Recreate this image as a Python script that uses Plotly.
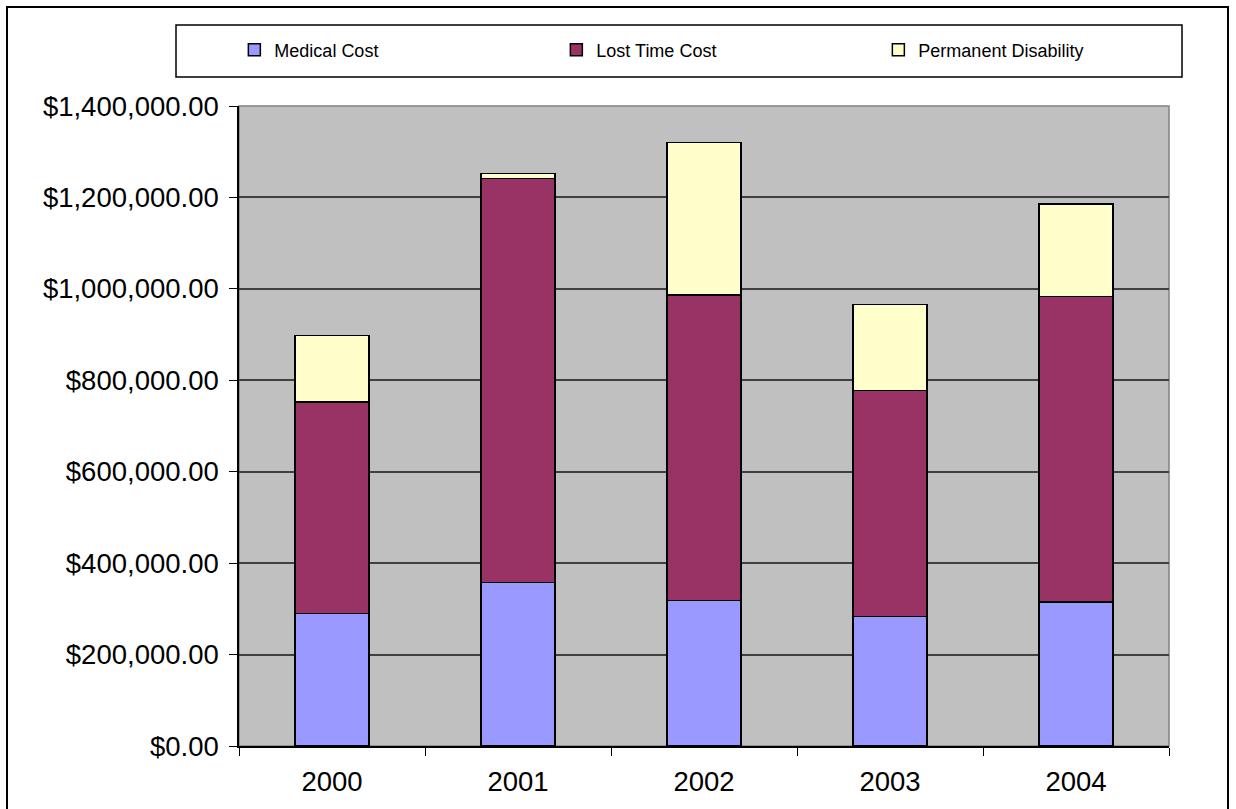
import plotly.graph_objects as go

# Annual claim costs by category
years = ["2000", "2001", "2002", "2003", "2004"]
medical_cost = [290300, 357200, 318700, 282900, 315000]
lost_time_cost = [462200, 884600, 667900, 494300, 667900]
permanent_disability = [145900, 11000, 333200, 189000, 202700]

series = [
    ("Medical Cost", medical_cost, "#9999FF"),
    ("Lost Time Cost", lost_time_cost, "#993366"),
    ("Permanent Disability", permanent_disability, "#FFFFCC"),
]

fig = go.Figure()
for name, values, color in series:
    fig.add_trace(go.Bar(
        x=years, y=values, name=name,
        marker=dict(color=color, line=dict(color="black", width=1.5)),
    ))

FONT = "Liberation Sans, Arial, sans-serif"

fig.update_layout(
    barmode="stack",
    bargap=0.6,
    width=1236, height=809,
    margin=dict(l=239, r=67, t=106, b=63),
    paper_bgcolor="white",
    plot_bgcolor="#C0C0C0",
    font=dict(family=FONT, color="black"),
    showlegend=True,
    legend=dict(
        orientation="h",
        x=-0.005, xanchor="left",
        y=1.0875, yanchor="middle",
        entrywidth=277, entrywidthmode="pixels",
        font=dict(size=18, family=FONT),
        bgcolor="rgba(0,0,0,0)",
        traceorder="normal",
    ),
    xaxis=dict(
        type="category",
        tickson="boundaries",
        ticks="outside", ticklen=8, tickcolor="black",
        tickfont=dict(size=27.5),
        ticklabelstandoff=10,
        showline=True, linecolor="black", linewidth=1.5,
        showgrid=False,
        mirror=False,
    ),
    yaxis=dict(
        range=[0, 1400000],
        tick0=0, dtick=200000,
        tickformat="$,.2f",
        ticks="outside", ticklen=8, tickcolor="black",
        tickfont=dict(size=27.5),
        ticklabelstandoff=5,
        showline=True, linecolor="black", linewidth=1.5,
        showgrid=True, gridcolor="#404040", gridwidth=1.5,
        zeroline=False,
    ),
    shapes=[
        # plot-area border on top and right
        dict(type="rect", xref="paper", yref="paper", x0=0, x1=1, y0=0, y1=1,
             line=dict(color="#808080", width=1.5), layer="below"),
        # legend box
        dict(type="rect", xref="paper", yref="paper",
             x0=(176 - 239) / 930, x1=(1182 - 239) / 930,
             y0=(746 - 77) / 640, y1=(746 - 25) / 640,
             line=dict(color="black", width=1.5)),
        # chart frame
        dict(type="rect", xref="paper", yref="paper",
             x0=(7 - 239) / 930, x1=(1228 - 239) / 930,
             y0=(746 - 815) / 640, y1=(746 - 7) / 640,
             line=dict(color="black", width=2)),
    ],
)

fig.write_html("out.html")
